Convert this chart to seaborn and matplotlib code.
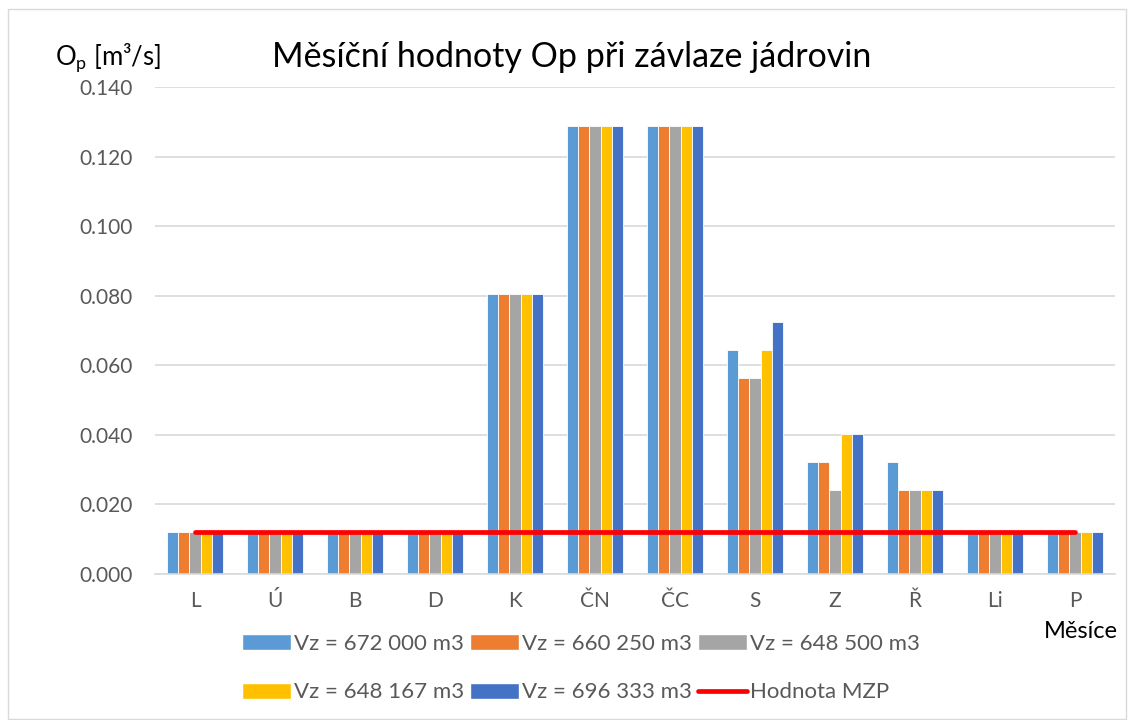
import matplotlib
matplotlib.use("Agg")
import matplotlib.pyplot as plt
import seaborn as sns
import pandas as pd
import numpy as np
from matplotlib.patches import Rectangle, Patch
from matplotlib.lines import Line2D

months = ["L", "Ú", "B", "D", "K", "ČN", "ČC", "S", "Z", "Ř", "Li", "P"]
series = ["Vz = 672 000 m3", "Vz = 660 250 m3", "Vz = 648 500 m3",
          "Vz = 648 167 m3", "Vz = 696 333 m3"]
vz_672000 = [0.0121, 0.0121, 0.0121, 0.0121, 0.0805, 0.1288, 0.1288, 0.0644, 0.0322, 0.0322, 0.0121, 0.0121]
vz_660250 = [0.0121, 0.0121, 0.0121, 0.0121, 0.0805, 0.1288, 0.1288, 0.0563, 0.0322, 0.0241, 0.0121, 0.0121]
vz_648500 = [0.0121, 0.0121, 0.0121, 0.0121, 0.0805, 0.1288, 0.1288, 0.0563, 0.0241, 0.0241, 0.0121, 0.0121]
vz_648167 = [0.0121, 0.0121, 0.0121, 0.0121, 0.0805, 0.1288, 0.1288, 0.0644, 0.0402, 0.0241, 0.0121, 0.0121]
vz_696333 = [0.0121, 0.0121, 0.0121, 0.0121, 0.0805, 0.1288, 0.1288, 0.0724, 0.0402, 0.0241, 0.0121, 0.0121]
mzp = [0.0122] * len(months)
mzp_label = "Hodnota MZP"

colors = ["#5B9BD5", "#ED7D31", "#A5A5A5", "#FFC000", "#4472C4"]

rows = []
for name, vals in zip(series, [vz_672000, vz_660250, vz_648500, vz_648167, vz_696333]):
    for m, v in zip(months, vals):
        rows.append({"month": m, "series": name, "value": v})
df = pd.DataFrame(rows)

sns.set_style("white")
plt.rcParams["font.family"] = ["Lato", "DejaVu Sans"]

fig = plt.figure(figsize=(11.29, 7.2), dpi=100)
ax = fig.add_axes([155 / 1129, 1 - 574 / 720, 960 / 1129, 487 / 720])

sns.barplot(data=df, x="month", y="value", hue="series", order=months,
            hue_order=series, palette=colors, width=0.7, saturation=1,
            edgecolor="white", linewidth=0.6, legend=False, ax=ax)
ax.plot(np.arange(len(months)), mzp, color="#FF0000", lw=3.4,
        solid_capstyle="round", zorder=5)

ax.set_ylim(0, 0.140)
ax.set_xlim(-0.5, len(months) - 0.5)
ax.set_yticks(np.arange(0, 0.1401, 0.02))
ax.set_yticklabels([f"{t:.3f}" for t in np.arange(0, 0.1401, 0.02)])
ax.yaxis.grid(True, color="#D9D9D9", lw=1.2)
ax.set_axisbelow(True)
for s in ["left", "right", "top"]:
    ax.spines[s].set_visible(False)
ax.spines["bottom"].set_color("#D9D9D9")
ax.spines["bottom"].set_linewidth(1.2)
ax.tick_params(axis="both", length=0, labelsize=15, colors="#595959")
ax.tick_params(axis="y", pad=16)
ax.tick_params(axis="x", pad=12)
ax.set_xlabel("")
ax.set_ylabel("")

fig.text(572 / 1129, 1 - 57 / 720, "Měsíční hodnoty Op při závlaze jádrovin",
         ha="center", va="center", fontsize=24.5, color="black")
fig.text(55 / 1129, 1 - 57 / 720, "O$_\\mathregular{p}$ [m³/s]",
         ha="left", va="center", fontsize=18.5, color="black")
fig.text(1118 / 1129, 1 - 632 / 720, "Měsíce", ha="right", va="center",
         fontsize=17, color="black")

handles = [Patch(facecolor=c, label=s) for c, s in zip(colors, series)]
handles.append(Line2D([0], [0], color="#FF0000", lw=3.4, label=mzp_label))
# legend fills by column, so reorder to get rows like the original
order = [0, 3, 1, 4, 2, 5]
handles = [handles[i] for i in order]
fig.legend(handles=handles, loc="center", bbox_to_anchor=(581 / 1129, 1 - 668 / 720),
           ncol=3, frameon=False, fontsize=16, labelcolor="#595959",
           handlelength=2.2, handleheight=0.75, handletextpad=0.15,
           columnspacing=0.25, labelspacing=1.3)

fig.patches.append(Rectangle((8 / 1129, 0.002), 1118 / 1129, 1 - 10 / 720,
                             transform=fig.transFigure, fill=False,
                             edgecolor="#D9D9D9", lw=1))

fig.savefig("out.png", dpi=100)
